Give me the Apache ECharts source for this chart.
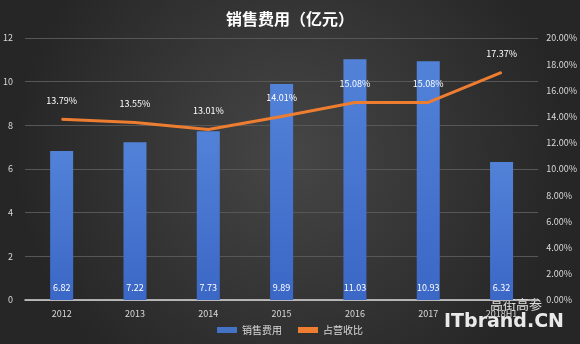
<!DOCTYPE html>
<html><head><meta charset="utf-8">
<script src="https://cdn.jsdelivr.net/npm/echarts@6/dist/echarts.min.js"></script>
<style>html,body{margin:0;padding:0;}#c{width:580px;height:344px;}</style>
</head><body><div id="c"></div>
<script>
var categories = ['2012','2013','2014','2015','2016','2017','2018H1'];
var salesExpense = [6.82, 7.22, 7.73, 9.89, 11.03, 10.93, 6.32];
var revenueRatio = [13.79, 13.55, 13.01, 14.01, 15.08, 15.08, 17.37];
var leftTicks = [0, 2, 4, 6, 8, 10, 12];
var rightTicks = [0, 2, 4, 6, 8, 10, 12, 14, 16, 18, 20];

var chart = echarts.init(document.getElementById('c'));
var font = '"Noto Sans CJK SC", "DejaVu Sans", sans-serif';
chart.setOption({
  backgroundColor: {
    type: 'radial', x: 0.5, y: 0.45, r: 0.8,
    colorStops: [{offset: 0, color: '#464646'}, {offset: 1, color: '#262626'}]
  },
  animation: false,
  textStyle: {fontFamily: font},
  title: {
    text: '销售费用（亿元）', left: 'center', top: 6,
    textStyle: {color: '#ffffff', fontSize: 16, fontWeight: 'bold', fontFamily: font}
  },
  legend: {
    bottom: 4, left: 'center', itemWidth: 20, itemHeight: 6, itemGap: 16,
    textStyle: {color: '#d8d8d8', fontSize: 10},
    data: [
      {name: '销售费用', icon: 'rect', itemStyle: {color: '#4472c4'}},
      {name: '占营收比', icon: 'rect', itemStyle: {color: '#ed7d31'}}
    ]
  },
  grid: {left: 24, right: 39, top: 38, bottom: 44},
  xAxis: {
    type: 'category', data: categories,
    axisLine: {lineStyle: {color: '#d9d9d9', width: 1.5}},
    axisTick: {show: false},
    axisLabel: {color: '#d9d9d9', fontSize: 9, margin: 9}
  },
  yAxis: [
    {
      type: 'value', min: leftTicks[0], max: leftTicks[leftTicks.length-1], interval: 2,
      axisLine: {show: false}, axisTick: {show: false},
      axisLabel: {color: '#d9d9d9', fontSize: 9, margin: 12},
      splitLine: {lineStyle: {color: '#575757', width: 1}}
    },
    {
      type: 'value', min: rightTicks[0], max: rightTicks[rightTicks.length-1], interval: 2,
      axisLine: {show: false}, axisTick: {show: false},
      axisLabel: {color: '#d9d9d9', fontSize: 9, margin: 8, formatter: function(v){return v.toFixed(2)+'%';}},
      splitLine: {show: false}
    }
  ],
  series: [
    {
      name: '销售费用', type: 'bar', data: salesExpense, barWidth: 23,
      itemStyle: {color: {type: 'linear', x: 0, y: 0, x2: 0, y2: 1,
        colorStops: [{offset: 0, color: '#5282d8'}, {offset: 1, color: '#3b67c6'}]}},
      label: {show: true, position: 'insideBottom', distance: 8, color: '#ffffff', fontSize: 9,
        formatter: function(p){return p.value.toFixed(2);}}
    },
    {
      name: '占营收比', type: 'line', yAxisIndex: 1, data: revenueRatio,
      showSymbol: true, symbol: 'circle', symbolSize: 1,
      lineStyle: {color: '#ed7d31', width: 3},
      itemStyle: {color: '#ed7d31'},
      label: {show: true, position: 'top', distance: 14, color: '#ffffff', fontSize: 9,
        formatter: function(p){return p.value.toFixed(2)+'%';}}
    }
  ],
  graphic: [
    {type: 'text', left: 490, top: 298, style: {text: '高街高参', fill: 'rgba(255,255,255,0.85)', fontSize: 13, fontFamily: font}},
    {type: 'text', left: 444, top: 313, style: {text: 'ITbrand.CN', fill: 'rgba(255,255,255,0.9)', fontSize: 19, fontWeight: 'bold', fontFamily: '"DejaVu Sans", sans-serif'}}
  ]
});
</script></body></html>
